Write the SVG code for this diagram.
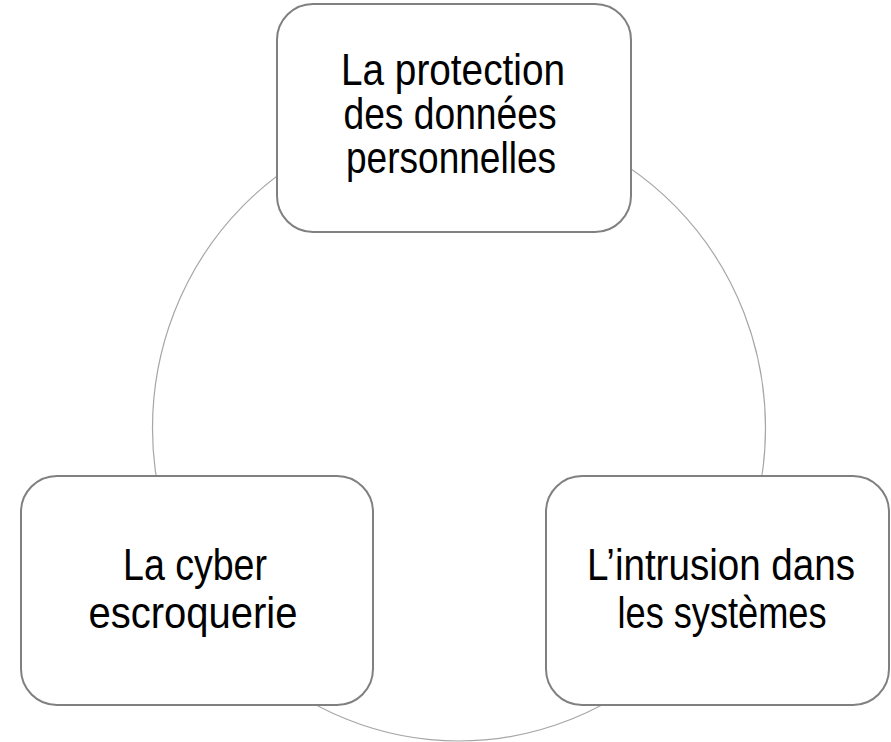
<svg xmlns="http://www.w3.org/2000/svg" width="891" height="742" viewBox="0 0 891 742">
<style>
.box{fill:#ffffff;stroke:#808080;stroke-width:2}
.ring{fill:none;stroke:#a6a6a6;stroke-width:1.2}
.lbl{font-family:"Liberation Sans",Arial,sans-serif;font-size:44px;fill:#000000;text-anchor:middle}
</style>
<rect width="891" height="742" fill="#ffffff"/>
<g id="connectors">
<ellipse class="ring" cx="459" cy="428" rx="306.5" ry="313"/>
</g>
<g id="node-protection">
<rect class="box" x="277" y="4" width="354" height="228" rx="36" ry="36"/>
<text class="lbl" x="453" y="85" textLength="224" lengthAdjust="spacingAndGlyphs">La protection</text>
<text class="lbl" x="450" y="129" textLength="213" lengthAdjust="spacingAndGlyphs">des données</text>
<text class="lbl" x="451" y="173" textLength="210" lengthAdjust="spacingAndGlyphs">personnelles</text>
</g>
<g id="node-escroquerie">
<rect class="box" x="21" y="476" width="352" height="229" rx="36" ry="36"/>
<text class="lbl" x="195" y="580" textLength="144" lengthAdjust="spacingAndGlyphs">La cyber</text>
<text class="lbl" x="193" y="628" textLength="209" lengthAdjust="spacingAndGlyphs">escroquerie</text>
</g>
<g id="node-intrusion">
<rect class="box" x="546" y="476" width="343" height="229" rx="36" ry="36"/>
<text class="lbl" x="721" y="580" textLength="268" lengthAdjust="spacingAndGlyphs">L’intrusion dans</text>
<text class="lbl" x="722" y="628" textLength="209" lengthAdjust="spacingAndGlyphs">les systèmes</text>
</g>
</svg>
